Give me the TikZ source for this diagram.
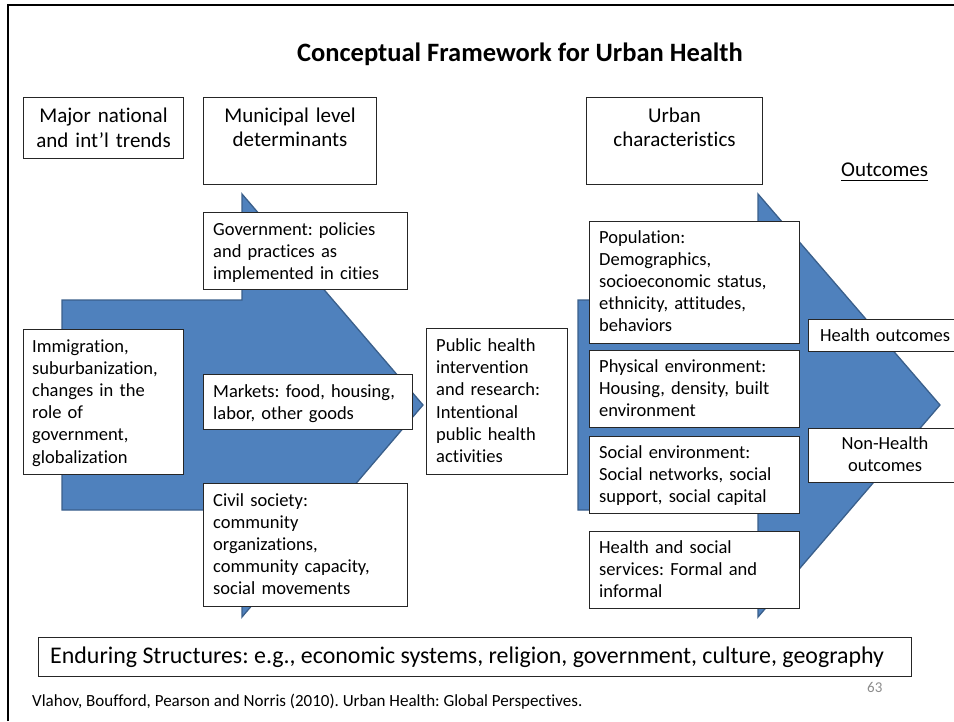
\documentclass[tikz,border=0pt]{standalone}
\usepackage{fontspec}
\setmainfont{Carlito}[Ligatures=NoCommon]
\frenchspacing
\definecolor{arrowfill}{HTML}{4F81BD}
\definecolor{arrowline}{HTML}{3A5F8B}
\definecolor{boxline}{HTML}{262626}
\definecolor{pagenum}{HTML}{8C8C8C}
\begin{document}
\begin{tikzpicture}[x=1pt,y=-1pt,
  bigarrow/.style={fill=arrowfill,draw=arrowline,line width=1.3pt,line join=miter},
  framebox/.style={draw=boxline,fill=white,line width=1.1pt,inner sep=0,anchor=north west},
  body/.style={inner sep=0,anchor=base west,text width=#1,align=left,
    font=\fontsize{18.5}{22.2}\selectfont},
  body/.default=200pt,
  head/.style={inner sep=0,anchor=base,text width=#1,align=center,
    font=\fontsize{21}{24.7}\selectfont},
  head/.default=170pt]
\useasboundingbox (0,0) rectangle (954,721);

% slide frame (top and left edges)
\draw[line width=2pt] (8.3,721) -- (8.3,5.3) -- (954,5.3);

% title
\node[inner sep=0,anchor=base,font=\fontsize{26.5}{30}\selectfont\bfseries] (title)
  at (520,61.7) {Conceptual Framework for Urban Health};

% column headers
\node[framebox,minimum width=160pt,minimum height=61pt] (major) at (23,97) {};
\node[head] (majortext) at ([yshift=-25.5pt]major.north) {Major national\\and int’l trends};
\node[framebox,minimum width=173pt,minimum height=87pt] (muni) at (203,97) {};
\node[head] (munitext) at ([yshift=-25pt]muni.north) {Municipal level\\determinants};
\node[framebox,minimum width=176pt,minimum height=87pt] (urban) at (586,97) {};
\node[head] (urbantext) at ([yshift=-25pt]urban.north) {Urban\\characteristics};
\node[inner sep=0,anchor=base west,font=\fontsize{21}{24}\selectfont] (outc) at (841,176) {Outcomes};
\draw[line width=1.5pt] ([yshift=-4.7pt]outc.base west) -- ([yshift=-4.7pt]outc.base east);

% block arrows
\draw[bigarrow] (62,300) -- (242,300) -- (242,194) -- (423,405) -- (242,617)
  -- (242,510) -- (62,510) -- cycle;
\draw[bigarrow] (578,300) -- (758,300) -- (758,194) -- (940,405) -- (758,617)
  -- (758,510) -- (578,510) -- cycle;

% municipal level determinants
\node[framebox,minimum width=204pt,minimum height=77pt] (gov) at (203,212) {};
\node[body] (govtext) at ([xshift=10pt,yshift=-23pt]gov.north west)
  {Government: policies\\and practices as\\implemented in cities};
\node[framebox,minimum width=209pt,minimum height=55pt] (markets) at (203,374) {};
\node[body] (marketstext) at ([xshift=10pt,yshift=-23pt]markets.north west)
  {Markets: food, housing,\\labor, other goods};
\node[framebox,minimum width=204pt,minimum height=123pt] (civil) at (203,483) {};
\node[body] (civiltext) at ([xshift=10pt,yshift=-23pt]civil.north west)
  {Civil society:\\community\\organizations,\\community capacity,\\social movements};

% national trends and public health
\node[framebox,minimum width=160pt,minimum height=145pt] (immig) at (23,329) {};
\node[body] (immigtext) at ([xshift=9pt,yshift=-23pt]immig.north west)
  {Immigration,\\suburbanization,\\changes in the\\role of\\government,\\globalization};
\node[framebox,minimum width=141pt,minimum height=146pt] (public) at (426,328) {};
\node[body] (publictext) at ([xshift=10pt,yshift=-23.5pt]public.north west)
  {Public health\\intervention\\and research:\\Intentional\\public health\\activities};

% urban characteristics
\node[framebox,minimum width=210pt,minimum height=122pt] (pop) at (589,221) {};
\node[body] (poptext) at ([xshift=10pt,yshift=-22pt]pop.north west)
  {Population:\\Demographics,\\socioeconomic status,\\ethnicity, attitudes,\\behaviors};
\node[framebox,minimum width=210pt,minimum height=77pt] (phys) at (589,350) {};
\node[body] (phystext) at ([xshift=10pt,yshift=-22pt]phys.north west)
  {Physical environment:\\Housing, density, built\\environment};
\node[framebox,minimum width=210pt,minimum height=77pt] (social) at (589,436) {};
\node[body] (socialtext) at ([xshift=10pt,yshift=-22pt]social.north west)
  {Social environment:\\Social networks, social\\support, social capital};
\node[framebox,minimum width=210pt,minimum height=77pt] (hserv) at (589,531) {};
\node[body] (hservtext) at ([xshift=10pt,yshift=-22pt]hserv.north west)
  {Health and social\\services: Formal and\\informal};

% outcomes
\node[framebox,minimum width=153pt,minimum height=32pt] (health) at (808,319) {};
\node[body,anchor=base,align=center,text width=150pt] (healthtext)
  at ([yshift=-22pt]health.north) {Health outcomes};
\node[framebox,minimum width=153pt,minimum height=54pt] (nonhealth) at (808,428) {};
\node[body,anchor=base,align=center,text width=150pt] (nonhealthtext)
  at ([yshift=-21pt]nonhealth.north) {Non-Health\\outcomes};

% enduring structures
\node[framebox,minimum width=873pt,minimum height=39pt] (enduring) at (38,637) {};
\node[inner sep=0,anchor=base west,font=\fontsize{23.9}{28}\selectfont] (enduringtext)
  at ([xshift=12pt,yshift=-26.5pt]enduring.north west)
  {Enduring Structures: e.g., economic systems, religion, government, culture, geography};

% slide number and source
\node[inner sep=0,anchor=base west,text=pagenum,font=\fontsize{15}{17}\selectfont] (num)
  at (867,692) {63};
\node[inner sep=0,anchor=base west,font=\fontsize{17}{20}\selectfont] (source)
  at (32,706) {Vlahov, Boufford, Pearson and Norris (2010). Urban Health: Global Perspectives.};
\end{tikzpicture}
\end{document}
